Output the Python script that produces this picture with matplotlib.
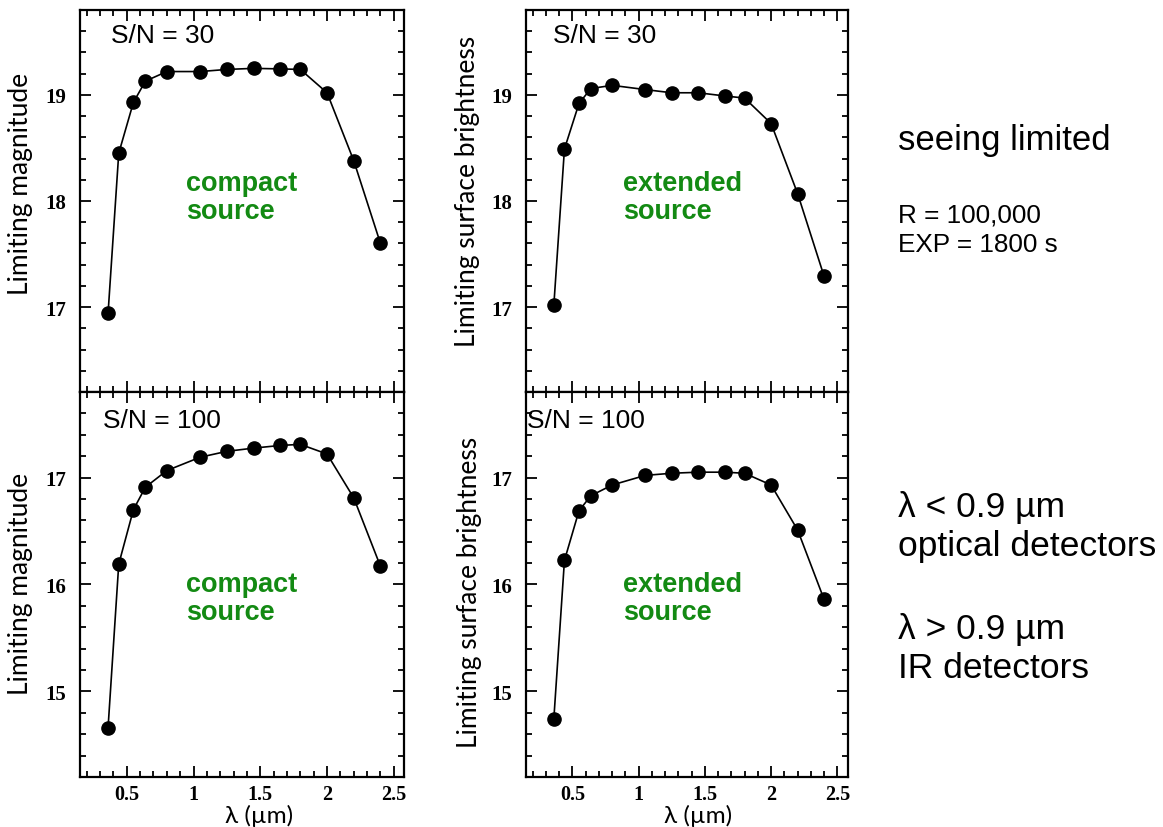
#!/usr/bin/env python3

"""
Limiting magnitude / surface brightness vs. wavelength, seeing limited.
"""

import matplotlib
matplotlib.use("Agg")
import matplotlib.pyplot as plt
from matplotlib.ticker import MultipleLocator, FixedLocator, FixedFormatter

# wavelengths (micron)
wavelength = [0.36, 0.44, 0.55, 0.64, 0.80, 1.05, 1.25, 1.45, 1.65, 1.80, 2.00, 2.20, 2.40]

# S/N = 30
mag_sn30 = [16.94, 18.45, 18.93, 19.13, 19.22, 19.22, 19.24, 19.25, 19.245, 19.24, 19.02, 18.38, 17.60]
sb_sn30 = [17.02, 18.49, 18.92, 19.06, 19.09, 19.05, 19.02, 19.02, 18.99, 18.97, 18.73, 18.07, 17.29]

# S/N = 100
mag_sn100 = [14.66, 16.19, 16.70, 16.91, 17.065, 17.19, 17.245, 17.275, 17.30, 17.31, 17.22, 16.81, 16.17]
sb_sn100 = [14.745, 16.225, 16.69, 16.83, 16.93, 17.02, 17.04, 17.05, 17.05, 17.04, 16.93, 16.51, 15.86]

xtick_vals = [0.5, 1, 1.5, 2, 2.5]
xtick_labels = ["0.5", "1", "1.5", "2", "2.5"]

GREEN = "#138a13"
SANS = "Liberation Sans"
LABEL_FONT = "Lato"
TICK_FONT = "Liberation Serif"


def style_axes(ax, ylim, yticks, show_xlabels, xlab_x):
    ax.set_xlim(0.15, 2.58)
    ax.set_ylim(*ylim)
    ax.xaxis.set_major_locator(FixedLocator(xtick_vals))
    ax.xaxis.set_minor_locator(MultipleLocator(0.1))
    ax.yaxis.set_major_locator(FixedLocator(yticks))
    ax.yaxis.set_minor_locator(MultipleLocator(0.2))
    ax.tick_params(which="both", direction="in", top=True, right=True, width=1.3)
    ax.tick_params(which="major", length=8)
    ax.tick_params(which="minor", length=4.5)
    ax.tick_params(axis="y", pad=10)
    ax.tick_params(axis="x", pad=5)
    for s in ax.spines.values():
        s.set_linewidth(1.6)
    ax.set_yticklabels([str(v) for v in yticks], fontsize=15, family=TICK_FONT, fontweight="bold")
    if show_xlabels:
        ax.xaxis.set_major_formatter(FixedFormatter(xtick_labels))
        for lab in ax.get_xticklabels():
            lab.set_fontsize(14.5)
            lab.set_family(TICK_FONT)
            lab.set_fontweight("bold")
        ax.set_xlabel("λ (µm)", fontsize=17.5, family=LABEL_FONT, va="baseline")
        ax.xaxis.set_label_coords(xlab_x, -0.117)
    else:
        ax.set_xticklabels([])


def main():
    fig = plt.figure(figsize=(11.63, 8.28), dpi=100)

    h_top = 0.9867 - 0.5254
    h_bot = 0.5254 - 0.0604
    ax_tl = fig.add_axes([0.0688, 0.5254, 0.279, h_top])
    ax_tr = fig.add_axes([0.4523, 0.5254, 0.2768, h_top])
    ax_bl = fig.add_axes([0.0688, 0.0604, 0.279, h_bot])
    ax_br = fig.add_axes([0.4523, 0.0604, 0.2768, h_bot])

    panels = [
        (ax_tl, mag_sn30, "Limiting magnitude", "S/N = 30", "compact\nsource",
         (16.2, 19.8), [17, 18, 19], False, (0.095, 0.916), (0.328, 0.455), (-0.144, 0.547), 0.552),
        (ax_tr, sb_sn30, "Limiting surface brightness", "S/N = 30", "extended\nsource",
         (16.2, 19.8), [17, 18, 19], False, (0.084, 0.916), (0.301, 0.455), (-0.143, 0.527), 0.534),
        (ax_bl, mag_sn100, "Limiting magnitude", "S/N = 100", "compact\nsource",
         (14.2, 17.8), [15, 16, 17], True, (0.07, 0.909), (0.328, 0.41), (-0.144, 0.503), 0.552),
        (ax_br, sb_sn100, "Limiting surface brightness", "S/N = 100", "extended\nsource",
         (14.2, 17.8), [15, 16, 17], True, (0.003, 0.909), (0.301, 0.41), (-0.137, 0.483), 0.534),
    ]

    for ax, vals, ylabel, sn, src, ylim, yticks, xl, sn_pos, src_pos, ylab_pos, xlab_x in panels:
        ax.plot(wavelength, vals, "-", color="black", linewidth=1.2, zorder=2)
        ax.plot(wavelength, vals, "o", color="black", markersize=9.5, zorder=3)
        style_axes(ax, ylim, yticks, xl, xlab_x)
        ax.set_ylabel(ylabel, fontsize=19, family=LABEL_FONT)
        ax.yaxis.set_label_coords(*ylab_pos)
        ax.text(*sn_pos, sn, transform=ax.transAxes, fontsize=19, family=SANS,
                va="baseline", ha="left")
        ax.text(*src_pos, src, transform=ax.transAxes, fontsize=19.5, family=SANS,
                fontweight="bold", color=GREEN, va="baseline", ha="left", linespacing=1.1)

    fig.text(0.772, 0.830, "seeing limited", fontsize=25, family=SANS, va="center")
    fig.text(0.772, 0.722, "R = 100,000\nEXP = 1800 s", fontsize=18.8, family=SANS,
             va="center", linespacing=1.3)
    fig.text(0.772, 0.3635, "λ < 0.9 µm\noptical detectors", fontsize=25.5, family=SANS,
             va="center", linespacing=1.25)
    fig.text(0.772, 0.216, "λ > 0.9 µm\nIR detectors", fontsize=25.5, family=SANS,
             va="center", linespacing=1.25)

    fig.savefig("out.png", dpi=100)


if __name__ == "__main__":
    main()
